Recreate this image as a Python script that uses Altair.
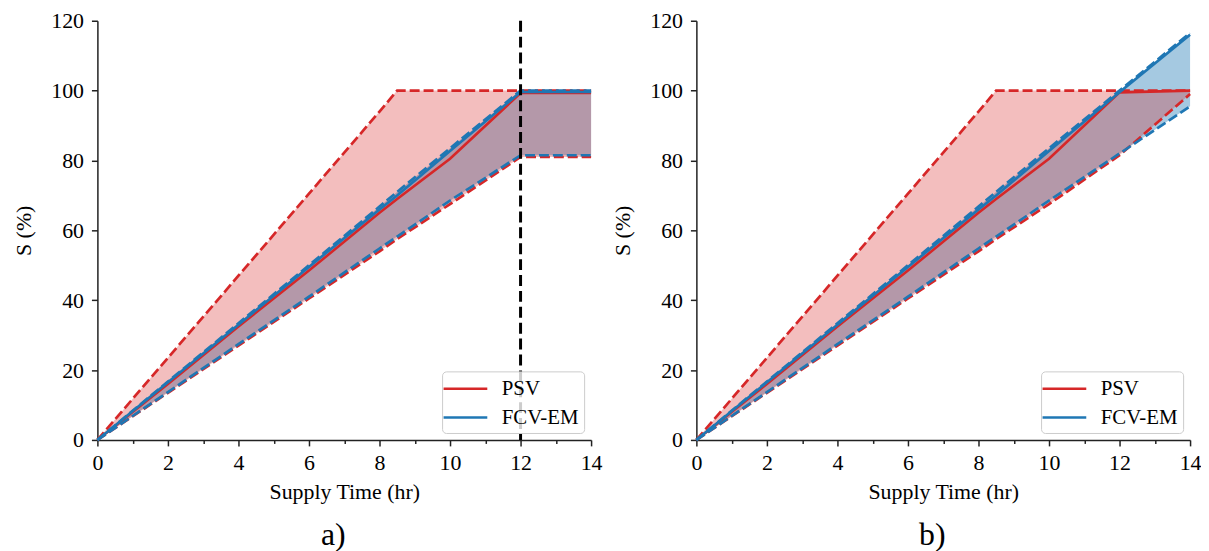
import altair as alt
import pandas as pd

# ---------------- data ----------------
time_hr = [0, 2, 4, 6, 8, 8.5, 10, 12, 14]

# panel a)
a_psv_upper = [0, 23.5, 47, 70.5, 94, 100, 100, 100, 100]
a_psv_mean = [0, 16, 32.5, 48.5, 65, 69, 80.5, 99.3, 99.3]
a_psv_lower = [0, 13.5, 27, 40.5, 54, 57.5, 67.5, 81, 81]
a_fcv_upper = [0, 16.7, 33.4, 50, 66.8, 71, 83.5, 100, 100]
a_fcv_mean = [0, 16.5, 33, 49.5, 66, 70, 82.7, 99.6, 99.6]
a_fcv_lower = [0, 13.7, 27.4, 41, 54.8, 58.2, 68.5, 81.5, 81.5]
a_cutoff = [12]

# panel b)
b_psv_upper = [0, 23.5, 47, 70.5, 94, 100, 100, 100, 100]
b_psv_mean = [0, 16, 32.5, 48.5, 65, 69, 80.5, 99.5, 100]
b_psv_lower = [0, 13.5, 27, 40.5, 54, 57.5, 67.5, 81.5, 99]
b_fcv_upper = [0, 16.7, 33.4, 50, 66.8, 71, 83.5, 100, 116.5]
b_fcv_mean = [0, 16.5, 33, 49.5, 66, 70, 82.7, 99.5, 116]
b_fcv_lower = [0, 13.7, 27.4, 41, 54.8, 58.2, 68.5, 82, 95.5]

series_names = ["PSV", "FCV-EM"]
x_ticks = list(range(0, 15))
y_ticks = [0, 20, 40, 60, 80, 100, 120]

RED = "#d62728"
BLUE = "#1f77b4"
FONT = "Liberation Serif"

XSCALE = alt.Scale(domain=[0, 14], nice=False, zero=False)
YSCALE = alt.Scale(domain=[0, 120], nice=False)

XAXIS = alt.Axis(
    values=x_ticks,
    labelExpr="datum.value % 2 === 0 ? datum.label : ''",
    tickSize={"condition": {"test": "datum.value % 2 === 0", "value": 6}, "value": 3.5},
    labelFlush=False,
    labelOverlap=False,
    grid=False,
    labelPadding=7,
    titlePadding=8,
    labelFont=FONT, titleFont=FONT,
)
YAXIS = alt.Axis(
    values=y_ticks,
    tickSize=6,
    labelFlush=False,
    labelOverlap=False,
    grid=False,
    labelPadding=8,
    titlePadding=15,
    labelFont=FONT, titleFont=FONT,
)


def panel(psv_up, psv_mean, psv_lo, fcv_up, fcv_mean, fcv_lo, label, cutoff):
    df = pd.DataFrame({
        "t": time_hr,
        "psv_up": psv_up, "psv_mean": psv_mean, "psv_lo": psv_lo,
        "fcv_up": fcv_up, "fcv_mean": fcv_mean, "fcv_lo": fcv_lo,
    })
    base = alt.Chart(df)
    X = alt.X("t:Q", scale=XSCALE, axis=XAXIS, title="Supply Time (hr)")

    def Y(field):
        return alt.Y(field + ":Q", scale=YSCALE, axis=YAXIS, title="S (%)")

    color = alt.Color(
        "series:N",
        scale=alt.Scale(domain=series_names, range=[RED, BLUE]),
        legend=alt.Legend(
            title=None, orient="bottom-right", offset=7,
            fillColor="rgba(255,255,255,0.8)", strokeColor="#cccccc",
            cornerRadius=4, padding=5,
            symbolType="M-2,0H2", symbolSize=484, symbolOffset=6,
            symbolStrokeWidth=2.5, symbolFillColor="transparent",
            labelFont=FONT, labelFontSize=21, labelOffset=24,
            rowPadding=6, labelColor="black",
        ),
    )

    blue_band = base.mark_area(color=BLUE, opacity=0.4).encode(
        x=X, y=Y("fcv_lo"), y2="fcv_up:Q")
    red_band = base.mark_area(color=RED, opacity=0.3).encode(
        x=X, y=Y("psv_lo"), y2="psv_up:Q")

    dash = [10, 4]
    red_up = base.mark_line(color=RED, strokeDash=dash, strokeWidth=2.7).encode(x=X, y=Y("psv_up"))
    red_lo = base.mark_line(color=RED, strokeDash=dash, strokeWidth=2.7).encode(x=X, y=Y("psv_lo"))
    red_mean = base.transform_calculate(series="'PSV'").mark_line(strokeWidth=2.6).encode(
        x=X, y=Y("psv_mean"), color=color)
    blue_mean = base.transform_calculate(series="'FCV-EM'").mark_line(strokeWidth=2.6).encode(
        x=X, y=Y("fcv_mean"), color=color)
    blue_up = base.mark_line(color=BLUE, strokeDash=dash, strokeWidth=2.7).encode(x=X, y=Y("fcv_up"))
    blue_lo = base.mark_line(color=BLUE, strokeDash=dash, strokeWidth=2.7).encode(x=X, y=Y("fcv_lo"))

    layers = [blue_band, red_band, red_mean, red_up, red_lo, blue_mean, blue_up, blue_lo]
    if cutoff:
        rule = alt.Chart(pd.DataFrame({"t": cutoff})).mark_rule(
            color="black", strokeDash=[11, 5], strokeWidth=3).encode(x=X)
        layers.append(rule)

    return alt.layer(*layers).properties(
        width=497, height=422,
        title=alt.TitleParams(label, orient="bottom", fontSize=32, font=FONT,
                              fontWeight="normal", dx=-11, offset=18,
                              frame="group", anchor="middle", color="black"),
    )


pa = panel(a_psv_upper, a_psv_mean, a_psv_lower, a_fcv_upper, a_fcv_mean, a_fcv_lower, "a)", a_cutoff)
pb = panel(b_psv_upper, b_psv_mean, b_psv_lower, b_fcv_upper, b_fcv_mean, b_fcv_lower, "b)", None)

chart = alt.hconcat(pa, pb, spacing=10).resolve_scale(color="independent").properties(
    padding={"left": 5, "top": 0, "right": 0, "bottom": 0}
).configure(font=FONT).configure_view(stroke=None).configure_axis(
    labelFont=FONT, titleFont=FONT, labelFontSize=22, titleFontSize=22,
    labelColor="black", titleColor="black", titleFontWeight="normal",
    domainColor="#222222", tickColor="#222222", domainWidth=1.5, tickWidth=1.5,
).configure_legend(labelFont=FONT)

chart.save("out.html", embed_options={"renderer": "svg", "actions": False})
